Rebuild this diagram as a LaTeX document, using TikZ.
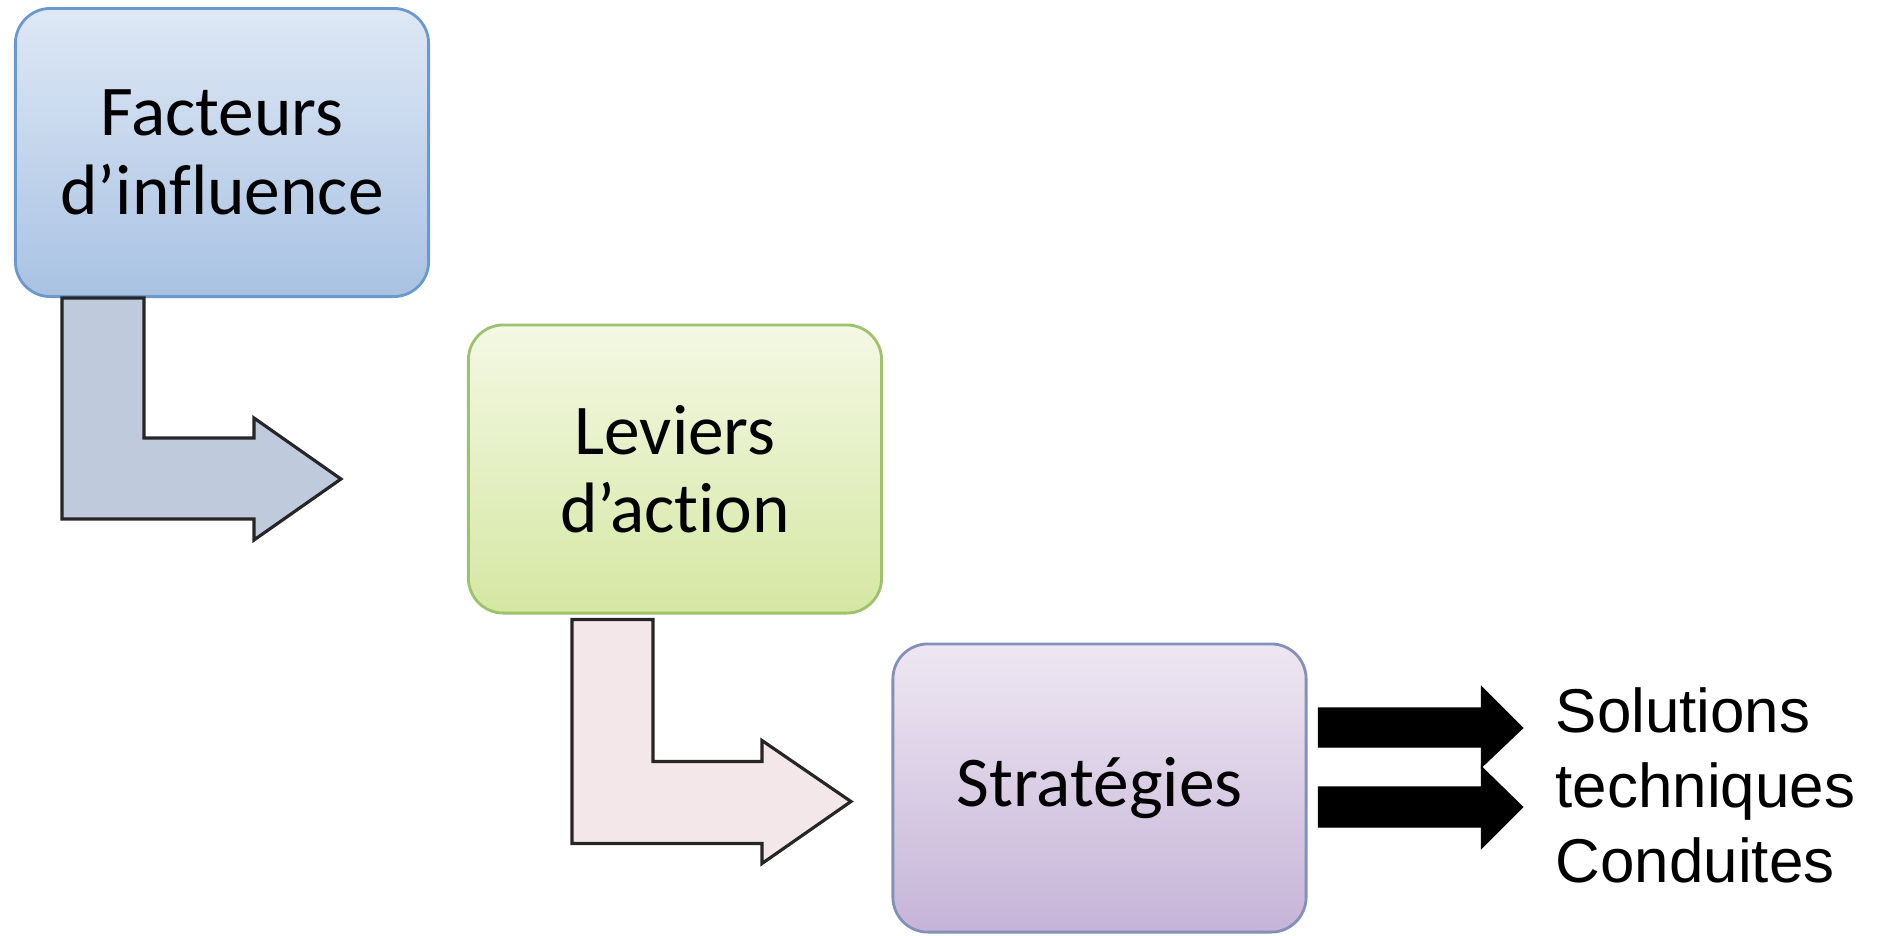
\documentclass[tikz,border=0pt]{standalone}
\usepackage{fontspec}
\setmainfont[Ligatures=NoCommon]{Carlito}
\newfontfamily\arialfont{Liberation Sans}
\usetikzlibrary{calc}

\definecolor{blueTop}{HTML}{DEE8F5}
\definecolor{blueBot}{HTML}{A9C2E3}
\definecolor{blueLine}{HTML}{6B99CC}
\definecolor{greenTop}{HTML}{F4F8E4}
\definecolor{greenBot}{HTML}{D5E7A3}
\definecolor{greenLine}{HTML}{9EC16C}
\definecolor{purpleTop}{HTML}{EEE7F2}
\definecolor{purpleBot}{HTML}{C6B4D8}
\definecolor{purpleLine}{HTML}{8391BA}
\definecolor{bendBlue}{HTML}{BFCBDD}
\definecolor{bendPink}{HTML}{F4E7E9}

\tikzset{
  stage/.style={draw, line width=0.8pt, rounded corners=0.35cm,
    minimum width=4.13cm, minimum height=2.88cm, align=center,
    font=\fontsize{20.3}{22.3}\selectfont},
  bentarrow/.style={draw=black!85, line width=0.9pt, line join=miter},
  outarrow/.style={fill=black, draw=black}
}

\begin{document}
\begin{tikzpicture}[x=0.01cm, y=-0.01cm]
  \useasboundingbox (0,0) rectangle (1878,935);

  % les trois etapes
  \node [stage, draw=blueLine, top color=blueTop, bottom color=blueBot] (fact) at (222,152.5) {Facteurs\\d’influence};
  \node [stage, draw=greenLine, top color=greenTop, bottom color=greenBot] (lev) at (675,469) {Leviers\\d’action};
  \node [stage, draw=purpleLine, top color=purpleTop, bottom color=purpleBot] (strat) at (1099.5,788) {Stratégies};

  % fleches coudees
  \draw [bentarrow, fill=bendBlue] ($(fact.south west)+(48,0)$) -- ++(82,0) -- ++(0,140) -- ++(110,0) -- ++(0,-20)
    -- ++(87,61) -- ++(-87,61) -- ++(0,-21) -- ++(-192,0) -- cycle;
  \draw [bentarrow, fill=bendPink] ($(lev.south west)+(105,5)$) -- ++(81,0) -- ++(0,142) -- ++(109,0) -- ++(0,-21)
    -- ++(89,61) -- ++(-89,62) -- ++(0,-20) -- ++(-190,0) -- cycle;

  % resultats
  \node [anchor=west, align=left, inner sep=0pt, font=\arialfont\fontsize{17.6}{21.3}\selectfont] (res) at (1555,785)
    {Solutions\\techniques\\Conduites};

  \coordinate (o1) at ($(strat.east)+(11,-60)$);
  \coordinate (o2) at ($(strat.east)+(11,19)$);
  \draw [outarrow] (o1) ++(0,-20) -- ++(163,0) -- ++(0,-21) -- ++(41,41) -- ++(-41,39) -- ++(0,-20) -- ++(-163,0) -- cycle;
  \draw [outarrow] (o2) ++(0,-20) -- ++(163,0) -- ++(0,-20) -- ++(41,40) -- ++(-41,41) -- ++(0,-21) -- ++(-163,0) -- cycle;
\end{tikzpicture}
\end{document}
